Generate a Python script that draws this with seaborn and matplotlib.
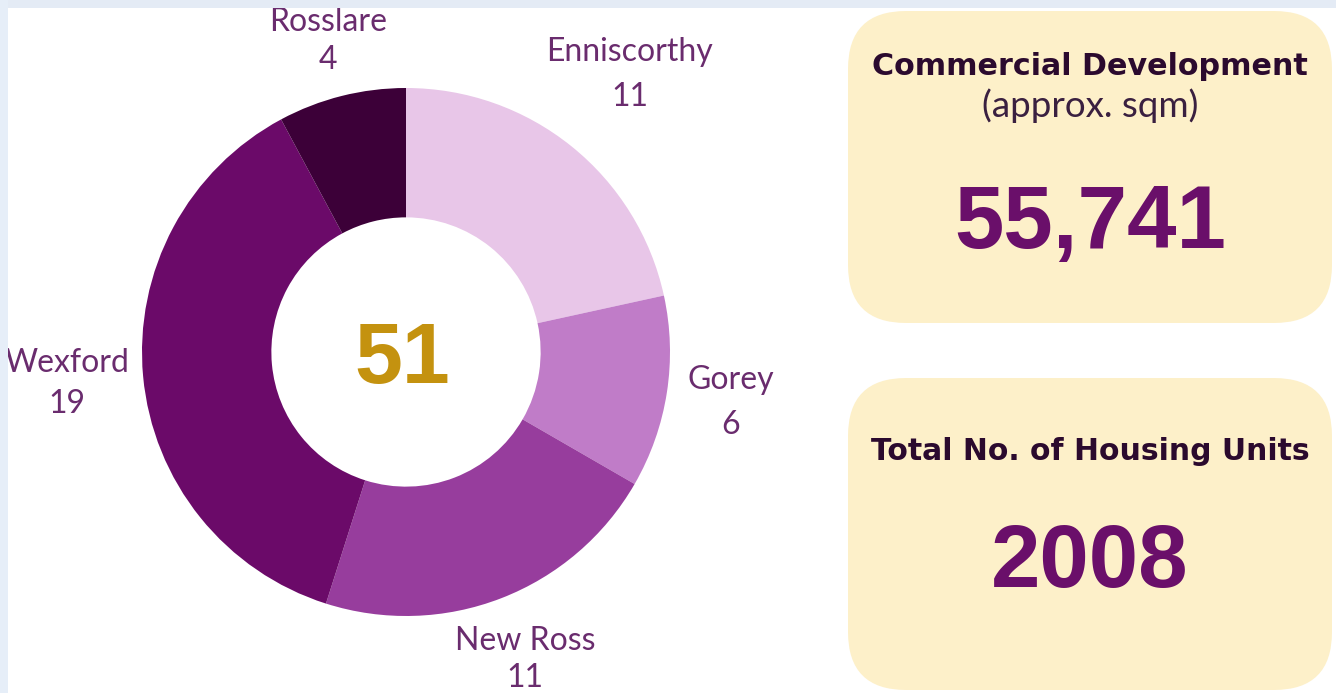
import numpy as np
import matplotlib
matplotlib.use('Agg')
import matplotlib.pyplot as plt
import seaborn as sns
from matplotlib.patches import FancyBboxPatch, Rectangle

# Projects per town (donut) and the two headline figures
towns = ['Enniscorthy', 'Gorey', 'New Ross', 'Wexford', 'Rosslare']
projects = [11, 6, 11, 19, 4]
town_colors = ['#e8c6e8', '#c07cc8', '#973d9d', '#6b0a69', '#3c0038']

box_titles = ['Commercial Development', 'Total No. of Housing Units']
box_subtitles = ['(approx. sqm)', '']
box_values = ['55,741', '2008']

sns.set_theme(style='white')
plt.rcParams['font.family'] = ['Lato', 'DejaVu Sans']

W, H = 1336, 693
fig = plt.figure(figsize=(W / 100, H / 100), dpi=100)
fig.patch.set_facecolor('white')
# thin light-blue frame at the top and the left
fig.patches.append(Rectangle((0, 1 - 8 / H), 1, 8 / H, transform=fig.transFigure,
                             fc='#e4ebf5', ec='none'))
fig.patches.append(Rectangle((0, 0), 8 / W, 1, transform=fig.transFigure,
                             fc='#e6eef8', ec='none'))

ax = fig.add_axes([0, 0, 1, 1])

# donut
cx, cy, R = 406, H - 352, 264
wedges, _ = ax.pie(projects, colors=town_colors, startangle=90, counterclock=False,
                   radius=R, center=(cx, cy),
                   wedgeprops=dict(width=R * 0.49, linewidth=0))

label_color = '#6a2c6e'
label_dist = [1.35, 1.245, 1.25, 1.29, 1.215]
label_spacing = [1.65, 1.6, 1.3, 1.45, 1.3]
for w, town, n, f, ls in zip(wedges, towns, projects, label_dist, label_spacing):
    ang = np.deg2rad((w.theta1 + w.theta2) / 2)
    d = R * f
    ax.text(cx + d * np.cos(ang), cy + d * np.sin(ang), f'{town}\n{n}',
            ha='center', va='center', fontsize=23, color=label_color, linespacing=ls)

ax.text(cx - 4, H - 383, str(sum(projects)), ha='center', va='baseline',
        fontsize=62, fontweight='bold', color='#c4920f', family='Liberation Sans')

# headline boxes
box_tops = [11, 378]
for top, title, sub, val in zip(box_tops, box_titles, box_subtitles, box_values):
    ax.add_patch(FancyBboxPatch((848, H - top - 312), 484, 312,
                                boxstyle='round,pad=0,rounding_size=58',
                                fc='#fdf0c9', ec='none'))
    bx = 1090
    if sub:
        ax.text(bx, H - (top + 64), title, ha='center', va='baseline', fontsize=21.7,
                fontweight='bold', color='#2b0a2e', family='DejaVu Sans')
        ax.text(bx, H - (top + 106), sub, ha='center', va='baseline', fontsize=26.5,
                color='#3a2040')
        ax.text(bx, H - (top + 237), val, ha='center', va='baseline', fontsize=64,
                fontweight='bold', color='#6a0f6a', family='Liberation Sans')
    else:
        ax.text(bx, H - (top + 82), title, ha='center', va='baseline', fontsize=21.5,
                fontweight='bold', color='#2b0a2e', family='DejaVu Sans')
        ax.text(bx, H - (top + 209), val, ha='center', va='baseline', fontsize=64,
                fontweight='bold', color='#6a0f6a', family='Liberation Sans')

ax.set_xlim(0, W)
ax.set_ylim(0, H)
ax.set_aspect('auto')
ax.set_axis_off()

fig.savefig('out.png', dpi=100)
